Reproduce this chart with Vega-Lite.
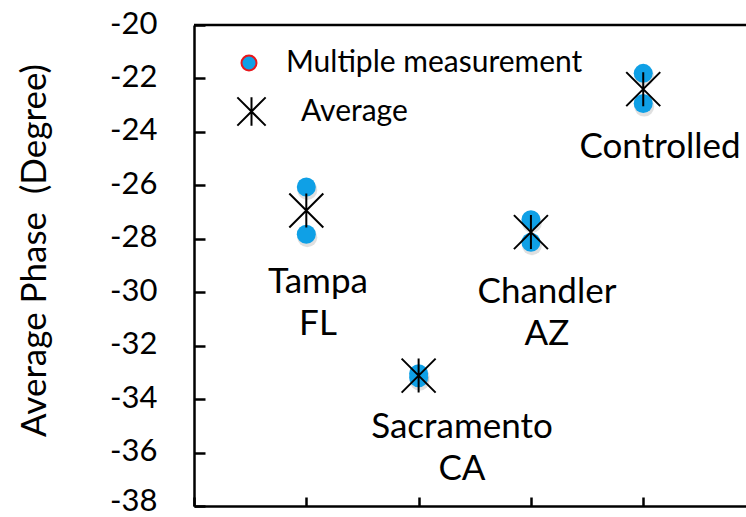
{
  "$schema": "https://vega.github.io/schema/vega-lite/v6.json",
  "width": 552,
  "height": 481,
  "autosize": {"type": "none"},
  "padding": {"left": 194, "top": 25, "right": 0, "bottom": 11},
  "background": "white",
  "config": {"view": {"stroke": null}, "font": "Lato"},
  "datasets": {
    "meas": [
      {"site": "Tampa FL", "pos": 1, "phase": -26.06, "series": "Multiple measurement"},
      {"site": "Tampa FL", "pos": 1, "phase": -27.83, "series": "Multiple measurement"},
      {"site": "Sacramento CA", "pos": 2, "phase": -33.05, "series": "Multiple measurement"},
      {"site": "Sacramento CA", "pos": 2, "phase": -33.2, "series": "Multiple measurement"},
      {"site": "Chandler AZ", "pos": 3, "phase": -27.29, "series": "Multiple measurement"},
      {"site": "Chandler AZ", "pos": 3, "phase": -28.13, "series": "Multiple measurement"},
      {"site": "Controlled", "pos": 4, "phase": -21.81, "series": "Multiple measurement"},
      {"site": "Controlled", "pos": 4, "phase": -22.94, "series": "Multiple measurement"}
    ],
    "avg": [
      {"site": "Tampa FL", "pos": 1, "phase": -26.94, "series": "Average"},
      {"site": "Sacramento CA", "pos": 2, "phase": -33.12, "series": "Average"},
      {"site": "Chandler AZ", "pos": 3, "phase": -27.75, "series": "Average"},
      {"site": "Controlled", "pos": 4, "phase": -22.4, "series": "Average"}
    ],
    "labels": [
      {"label": "Tampa\nFL", "lx": 1.104, "ly": -29.62},
      {"label": "Sacramento\nCA", "lx": 2.386, "ly": -35.045},
      {"label": "Chandler\nAZ", "lx": 3.143, "ly": -29.995},
      {"label": "Controlled", "lx": 4.15, "ly": -24.565}
    ],
    "frame": [{"edge": "top", "phase": -20}]
  },
  "layer": [
    {
      "data": {"name": "frame"},
      "mark": {"type": "rule", "stroke": "black", "strokeWidth": 2.5},
      "encoding": {"y": {"field": "phase", "type": "quantitative"}}
    },
    {
      "data": {"name": "meas"},
      "mark": {"type": "point", "filled": true, "shape": "circle", "fill": "#000000", "size": 400, "strokeWidth": 0, "opacity": 0.12, "yOffset": 3, "xOffset": 1},
      "encoding": {
        "x": {"field": "pos", "type": "quantitative"},
        "y": {"field": "phase", "type": "quantitative"}
      }
    },
    {
      "data": {"name": "meas"},
      "mark": {"type": "point", "filled": true, "shape": "circle", "stroke": "#E8161B", "strokeWidth": 2, "size": 140, "opacity": 1},
      "encoding": {
        "x": {
          "field": "pos", "type": "quantitative",
          "scale": {"domain": [0, 4.915], "nice": false, "zero": false},
          "axis": {"orient": "bottom", "values": [0, 1, 2, 3, 4], "labels": false, "title": null, "grid": false,
                   "tickSize": -9, "tickWidth": 2.5, "tickColor": "black", "domainColor": "black", "domainWidth": 2.5}
        },
        "y": {
          "field": "phase", "type": "quantitative",
          "scale": {"domain": [-38, -20], "nice": false, "zero": false},
          "axis": {"values": [-38, -36, -34, -32, -30, -28, -26, -24, -22, -20], "grid": false,
                   "labelExpr": "'-' + abs(datum.value)",
                   "tickSize": -11, "tickWidth": 2.5, "tickColor": "black", "domainColor": "black", "domainWidth": 2.5,
                   "labelFont": "Lato", "labelFontSize": 31, "labelColor": "black", "labelPadding": 48,
                   "labelOffset": {"condition": {"test": "datum.value == -38", "value": -5}, "value": -1},
                   "title": "Average Phase \u00a0(Degree)", "titleFont": "Lato", "titleFontSize": 35,
                   "titleFontWeight": "normal", "titleColor": "black", "titlePadding": 57, "titleY": 225}
        },
        "fill": {
          "field": "series", "type": "nominal",
          "scale": {"domain": ["Multiple measurement"], "range": ["#0FA0E6"]},
          "legend": {
            "orient": "none", "legendX": 45, "legendY": 23, "title": null, "padding": 0,
            "labelFont": "Lato", "labelFontSize": 30, "labelColor": "black", "labelLimit": 0,
            "symbolSize": 225, "symbolType": "circle", "symbolStrokeColor": "#E8161B", "symbolStrokeWidth": 2,
            "symbolOffset": -5, "labelOffset": 22
          }
        }
      }
    },
    {
      "data": {"name": "meas"},
      "mark": {"type": "point", "filled": true, "shape": "circle", "fill": "#0FA0E6", "size": 361, "strokeWidth": 0, "opacity": 1},
      "encoding": {
        "x": {"field": "pos", "type": "quantitative"},
        "y": {"field": "phase", "type": "quantitative"}
      }
    },
    {
      "data": {"name": "avg"},
      "mark": {"type": "point", "filled": false, "stroke": "black", "strokeWidth": 2, "size": 1156, "opacity": 1},
      "encoding": {
        "x": {"field": "pos", "type": "quantitative"},
        "y": {"field": "phase", "type": "quantitative"},
        "shape": {
          "field": "series", "type": "nominal",
          "scale": {"domain": ["Average"], "range": ["M-1,-1L1,1M-1,1L1,-1M0,-1L0,1"]},
          "legend": {
            "orient": "none", "legendX": 42, "legendY": 71, "title": null, "padding": 0,
            "labelFont": "Lato", "labelFontSize": 30, "labelColor": "black", "labelLimit": 0,
            "symbolSize": 800, "symbolStrokeColor": "black", "symbolStrokeWidth": 2, "symbolFillColor": "transparent",
            "labelOffset": 34
          }
        }
      }
    },
    {
      "data": {"name": "labels"},
      "mark": {"type": "text", "font": "Lato", "fontSize": 35, "color": "black", "align": "center", "baseline": "middle", "lineBreak": "\n", "lineHeight": 42},
      "encoding": {
        "x": {"field": "lx", "type": "quantitative"},
        "y": {"field": "ly", "type": "quantitative"},
        "text": {"field": "label"}
      }
    }
  ]
}
